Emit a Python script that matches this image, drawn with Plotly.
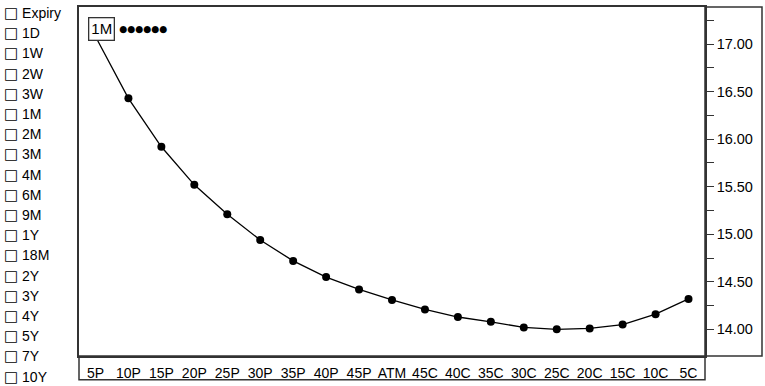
import plotly.graph_objects as go

strikes = ["5P", "10P", "15P", "20P", "25P", "30P", "35P", "40P", "45P", "ATM",
           "45C", "40C", "35C", "30C", "25C", "20C", "15C", "10C", "5C"]
vols_1m = [17.08, 16.43, 15.92, 15.52, 15.21, 14.94, 14.72, 14.55, 14.42, 14.31,
           14.21, 14.13, 14.08, 14.02, 14.00, 14.01, 14.05, 14.16, 14.32]
expiries = ["Expiry", "1D", "1W", "2W", "3W", "1M", "2M", "3M", "4M", "6M", "9M",
            "1Y", "18M", "2Y", "3Y", "4Y", "5Y", "7Y", "10Y"]
series_name = "1M"
y_ticks = [14.0, 14.5, 15.0, 15.5, 16.0, 16.5, 17.0]
y_minor = [14.25, 14.75, 15.25, 15.75, 16.25, 16.75, 17.25]

W, H = 765, 386
L, R, T, B = 79, 60, 5, 27
pw, ph = W - L - R, H - T - B
FONT = "Liberation Sans, Arial, Helvetica, sans-serif"

fig = go.Figure()
fig.add_trace(go.Scatter(
    x=list(range(len(strikes))), y=vols_1m, mode="lines+markers",
    line=dict(color="black", width=1.3),
    marker=dict(color="black", size=8),
    showlegend=False, cliponaxis=False))

fig.update_layout(
    width=W, height=H, margin=dict(l=L, r=R, t=T, b=B),
    paper_bgcolor="white", plot_bgcolor="white",
    font=dict(family=FONT, size=14, color="black"),
    xaxis=dict(range=[-0.5, len(strikes) - 0.5], tickmode="array",
               tickvals=list(range(len(strikes))), ticktext=strikes,
               showgrid=False, zeroline=False, ticks="", showline=True,
               linecolor="#333", linewidth=1.5, mirror=True,
               tickfont=dict(size=14, family=FONT), ticklabelstandoff=3),
    yaxis=dict(range=[13.72, 17.39], side="right", tickvals=y_ticks,
               tickformat=".2f", showgrid=False, zeroline=False,
               ticks="outside", ticklen=7, tickcolor="#333", tickwidth=1,
               minor=dict(tickmode="array", tickvals=y_minor, ticks="outside",
                          ticklen=7, tickcolor="#333", tickwidth=1, showgrid=False),
               showline=True, linecolor="#333", linewidth=1.5, mirror=True,
               tickfont=dict(size=14.5, family=FONT)),
)

# boxes around x tick labels and y tick labels
fig.add_shape(type="rect", xref="paper", yref="paper", x0=0, x1=1,
              y0=-(B - 3) / ph, y1=0, line=dict(color="#333", width=1.5))
fig.add_shape(type="rect", xref="paper", yref="paper", x0=1, x1=(762 - L) / pw,
              y0=0, y1=1, line=dict(color="#333", width=1.5))

# series label box on first point
fig.add_annotation(x=0, y=vols_1m[0], xref="x", yref="y", text=series_name,
                   showarrow=False, xshift=6, yshift=7, bgcolor="white",
                   bordercolor="#333", borderwidth=1.3, borderpad=2,
                   font=dict(size=15, family=FONT))
fig.add_annotation(x=(117 - L) / pw, y=(H - B - 27) / ph, xref="paper", yref="paper",
                   text="●●●●●●", showarrow=False, xanchor="left", yanchor="middle",
                   font=dict(size=9.2, family="DejaVu Sans"))

# left checkbox list
for i, e in enumerate(expiries):
    ypx = 11 + i * 20.5
    fig.add_annotation(x=(2 - L) / pw, y=(H - B - ypx) / ph, xref="paper", yref="paper",
                       text="<span style='font-family:DejaVu Sans;font-size:15px'>□</span> " + e,
                       showarrow=False, xanchor="left", yanchor="middle",
                       font=dict(size=14, family=FONT))

fig.write_html("out.html", config={"displayModeBar": False},
               post_script="document.body.style.margin='0';")
